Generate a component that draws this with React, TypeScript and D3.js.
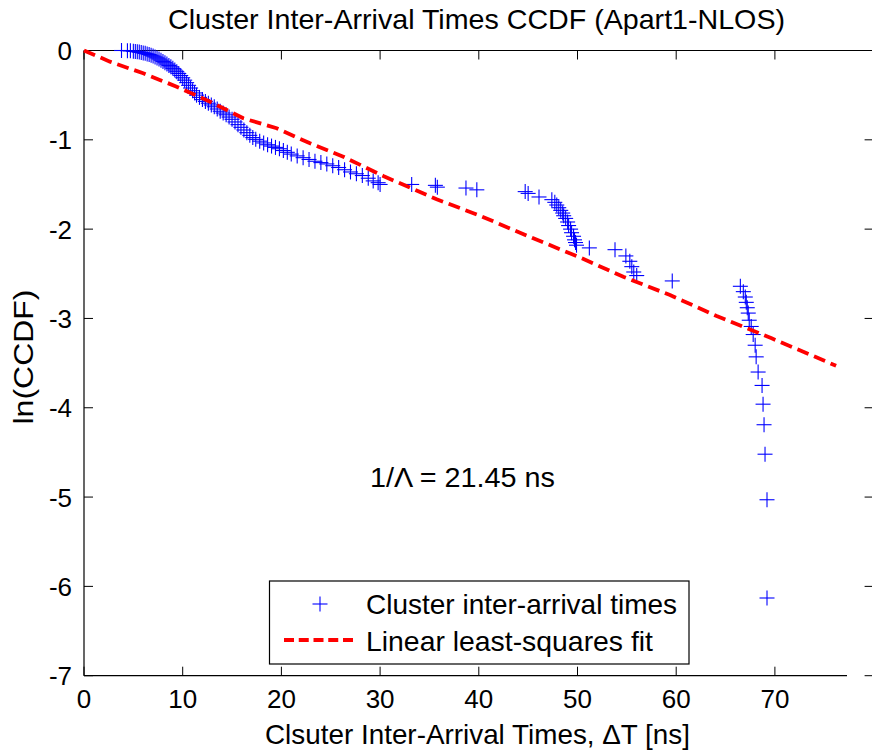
import React from "react";
import * as d3 from "d3";

const W = 872;
const H = 752;

const xTicks = [0, 10, 20, 30, 40, 50, 60, 70, 80];
const yTicks = [0, -1, -2, -3, -4, -5, -6, -7];

// Cluster inter-arrival times (x [ns], ln(CCDF))
const clusterX = [
  3.8, 4.4, 4.7, 5.0, 5.2, 5.4, 5.6, 5.8, 6.0, 6.2, 6.4, 6.6, 6.8, 7.0, 7.2, 7.4, 7.6, 7.8,
  8.0, 8.2, 8.4, 8.6, 8.8, 9.0, 9.2, 9.4, 9.6, 9.8, 10.0, 10.2, 10.4, 10.6, 10.8, 11.0,
  11.2, 11.4, 11.7, 12.0, 12.3, 12.6, 12.9, 13.2, 13.5, 13.8, 14.1, 14.4, 14.7, 15.0,
  15.3, 15.6, 15.9, 16.2, 16.5, 16.8, 17.1, 17.4, 17.8, 18.2, 18.6, 19.0, 19.4, 19.8,
  20.2, 20.6, 21.0, 21.6, 22.2, 22.8, 23.4, 24.0, 24.6, 25.2, 25.8, 26.4, 27.0, 27.6,
  28.2, 28.8, 29.3, 29.8, 30.0,
  33.2, 35.6, 35.8, 38.7, 39.8, 44.7, 45.0, 46.1,
  47.4, 47.7, 47.9, 48.1, 48.3, 48.5, 48.6, 48.8, 49.0, 49.1, 49.3, 49.4, 49.6, 49.7, 49.8, 49.9,
  51.2, 53.8, 54.9, 55.3, 55.5, 55.7, 56.0, 59.6,
  66.5, 66.8, 67.0, 67.1, 67.2, 67.3, 67.4, 67.6, 67.8, 68.0, 68.1, 68.3, 68.7, 68.8, 68.9, 69.0, 69.2, 69.2,
];
const clusterY = [
  0.0, -0.002, -0.004, -0.007, -0.01, -0.014, -0.018, -0.022, -0.027, -0.032, -0.038, -0.045, -0.053, -0.062, -0.072, -0.083, -0.095, -0.108,
  -0.122, -0.137, -0.152, -0.167, -0.183, -0.2, -0.218, -0.237, -0.257, -0.28, -0.305, -0.332, -0.36, -0.39, -0.42, -0.45,
  -0.475, -0.5, -0.525, -0.55, -0.57, -0.59, -0.61, -0.63, -0.655, -0.68, -0.7, -0.72, -0.745, -0.77,
  -0.8, -0.83, -0.86, -0.89, -0.92, -0.95, -0.975, -0.995, -1.015, -1.035, -1.055, -1.07, -1.085, -1.1,
  -1.12, -1.14, -1.16, -1.18, -1.2, -1.22, -1.24, -1.255, -1.27, -1.29, -1.31, -1.335, -1.36, -1.38,
  -1.4, -1.43, -1.46, -1.48, -1.5,
  -1.5, -1.51, -1.53, -1.54, -1.56, -1.58, -1.6, -1.64,
  -1.67, -1.7, -1.73, -1.76, -1.79, -1.82, -1.85, -1.88, -1.92, -1.96, -2.0, -2.04, -2.08, -2.12, -2.15, -2.18,
  -2.21, -2.23, -2.3, -2.36, -2.42, -2.48, -2.52, -2.58,
  -2.64, -2.7, -2.76, -2.82, -2.88, -2.94, -3.02, -3.09, -3.18, -3.3, -3.43, -3.6, -3.75, -3.96, -4.19, -4.52, -5.03, -6.13,
];

// Linear least-squares fit as drawn
const fitX = [0, 2.63, 6.0, 9.39, 12.77, 16.14, 19.52, 22.9, 26.27, 30.32, 35.73, 39.95, 45.52, 50.08, 54.64, 59.37, 64.1, 69.67, 73.9, 76.2];
const fitY = [0, -0.125, -0.255, -0.405, -0.573, -0.759, -0.871, -1.039, -1.189, -1.405, -1.666, -1.842, -2.103, -2.309, -2.533, -2.738, -2.973, -3.223, -3.421, -3.53];

const FONT = "'Liberation Sans', Arial, Helvetica, sans-serif";

export default function App() {
  const x = d3.scaleLinear().domain([0, 80]).range([84, 873.6]);
  const y = d3.scaleLinear().domain([-7, 0]).range([675.7, 50.5]);
  const left = x(0);
  const right = x(80);
  const top = y(0);
  const bottom = y(-7);

  const fitPts: [number, number][] = fitX.map((v, i) => [v, fitY[i]]);
  const line = d3
    .line<[number, number]>()
    .x((d) => x(d[0]))
    .y((d) => y(d[1]));

  const tickLen = 9;
  const ms = 7.5;

  const plus = (cx: number, cy: number, key: string | number, color = "#0000ff") => (
    <g key={key} stroke={color} strokeWidth={1.1} fill="none">
      <line x1={cx - ms} x2={cx + ms} y1={cy} y2={cy} />
      <line x1={cx} x2={cx} y1={cy - ms} y2={cy + ms} />
    </g>
  );

  return (
    <div style={{ position: "absolute", left: 0, top: 0 }}>
      <svg width={W} height={H} style={{ display: "block", background: "#fff" }} fontFamily={FONT}>
        <rect x={0} y={0} width={W} height={H} fill="#fff" />
        {/* frame */}
        <g stroke="#000" strokeWidth={1.2} fill="none">
          <line x1={left} x2={W} y1={top} y2={top} />
          <line x1={left} x2={left} y1={top} y2={bottom} />
          <line x1={left} x2={847} y1={bottom} y2={bottom} />
          <line x1={right} x2={right} y1={top} y2={bottom} />
        </g>
        {/* ticks */}
        <g stroke="#000" strokeWidth={1}>
          {xTicks.map((t) => (
            <g key={"xt" + t}>
              <line x1={x(t)} x2={x(t)} y1={bottom} y2={bottom - tickLen} />
              <line x1={x(t)} x2={x(t)} y1={top} y2={top + tickLen} />
            </g>
          ))}
          {yTicks.map((t) => (
            <g key={"yt" + t}>
              <line x1={left} x2={left + tickLen} y1={y(t)} y2={y(t)} />
              <line x1={right} x2={right - tickLen} y1={y(t)} y2={y(t)} />
            </g>
          ))}
        </g>
        {/* tick labels */}
        <g fontSize={26} fill="#000">
          {xTicks.filter((t) => t <= 70).map((t) => (
            <text key={"xl" + t} x={x(t)} y={708} textAnchor="middle">
              {t}
            </text>
          ))}
          {yTicks.map((t) => (
            <text key={"yl" + t} x={72} y={y(t) + 9.5} textAnchor="end">
              {t}
            </text>
          ))}
        </g>
        {/* data */}
        <g>
          {clusterX.map((v, i) => plus(x(v), y(clusterY[i]), i))}
        </g>
        <path
          d={line(fitPts) || ""}
          fill="none"
          stroke="#ff0000"
          strokeWidth={3.8}
          strokeDasharray="12,6"
        />
        {/* annotation */}
        <text x={370} y={487} fontSize={28} fill="#000" textLength={185} lengthAdjust="spacingAndGlyphs">
          1/Λ = 21.45 ns
        </text>
        {/* legend */}
        <rect x={269.5} y={581} width={419.5} height={83} fill="#fff" stroke="#000" strokeWidth={1.2} />
        {plus(320, 604, "lg")}
        <text x={366} y={614} fontSize={28} fill="#000" textLength={311} lengthAdjust="spacingAndGlyphs">
          Cluster inter-arrival times
        </text>
        <line x1={284} x2={353} y1={640} y2={640} stroke="#ff0000" strokeWidth={3.8} strokeDasharray="10,4.75" />
        <text x={366} y={651} fontSize={28} fill="#000" textLength={287} lengthAdjust="spacingAndGlyphs">
          Linear least-squares fit
        </text>
        {/* title and labels */}
        <text x={476.5} y={29} fontSize={28} textAnchor="middle" fill="#000" textLength={617} lengthAdjust="spacingAndGlyphs">
          Cluster Inter-Arrival Times CCDF (Apart1-NLOS)
        </text>
        <text x={477.5} y={744} fontSize={28} textAnchor="middle" fill="#000" textLength={425} lengthAdjust="spacingAndGlyphs">
          Clsuter Inter-Arrival Times, ΔT [ns]
        </text>
        <text
          transform="translate(33,357) rotate(-90)"
          fontSize={28}
          textAnchor="middle"
          fill="#000"
          textLength={135}
          lengthAdjust="spacingAndGlyphs"
        >
          ln(CCDF)
        </text>
      </svg>
    </div>
  );
}
